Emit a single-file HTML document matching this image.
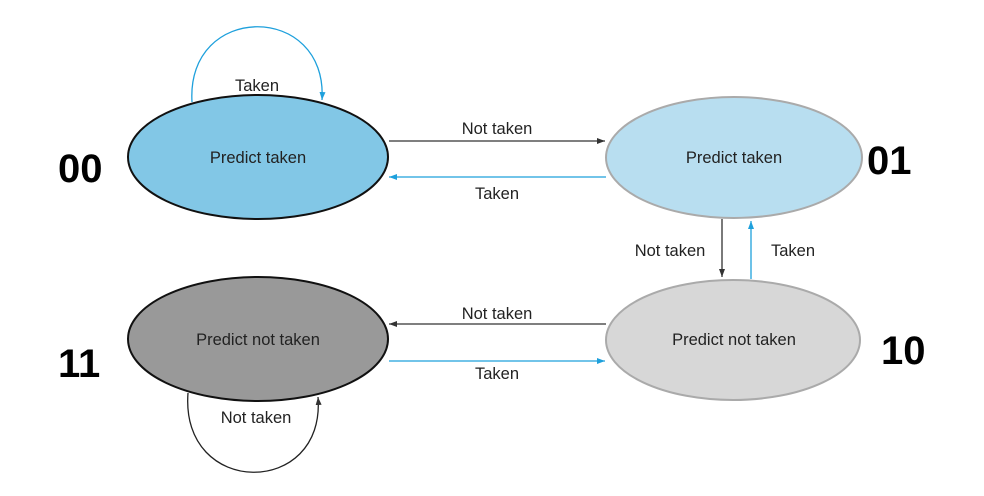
<!DOCTYPE html>
<html><head><meta charset="utf-8"><style>body{margin:0;background:#fff}</style></head><body>
<svg width="984" height="491" xmlns="http://www.w3.org/2000/svg" font-family="Liberation Sans, sans-serif">
<defs>
<marker id="ak" markerWidth="8" markerHeight="6" refX="8" refY="3" orient="auto" markerUnits="userSpaceOnUse"><path d="M0,0 L8,3 L0,6 z" fill="#333"/></marker>
<marker id="ab" markerWidth="8" markerHeight="6" refX="8" refY="3" orient="auto" markerUnits="userSpaceOnUse"><path d="M0,0 L8,3 L0,6 z" fill="#1ea0dc"/></marker>
</defs>
<path d="M192,102 C186,2 328,2 322,100" fill="none" stroke="#1ea0dc" stroke-width="1.3" marker-end="url(#ab)"/>
<path d="M188,393 C180,498 326,498 318,397" fill="none" stroke="#222" stroke-width="1.3" marker-end="url(#ak)"/>
<ellipse cx="258" cy="157" rx="130" ry="62" fill="#82c7e6" stroke="#111" stroke-width="2"/>
<ellipse cx="734" cy="157.5" rx="128" ry="60.5" fill="#b8def0" stroke="#aaa" stroke-width="2"/>
<ellipse cx="258" cy="339" rx="130" ry="62" fill="#999" stroke="#111" stroke-width="2"/>
<ellipse cx="733" cy="340" rx="127" ry="60" fill="#d7d7d7" stroke="#aaa" stroke-width="2"/>
<line x1="389" y1="141" x2="605" y2="141" stroke="#333" stroke-width="1.3" marker-end="url(#ak)"/>
<line x1="606" y1="177" x2="389" y2="177" stroke="#1ea0dc" stroke-width="1.3" marker-end="url(#ab)"/>
<line x1="606" y1="324" x2="389" y2="324" stroke="#333" stroke-width="1.3" marker-end="url(#ak)"/>
<line x1="389" y1="361" x2="605" y2="361" stroke="#1ea0dc" stroke-width="1.3" marker-end="url(#ab)"/>
<line x1="722" y1="219" x2="722" y2="277" stroke="#333" stroke-width="1.3" marker-end="url(#ak)"/>
<line x1="751" y1="279" x2="751" y2="221" stroke="#1ea0dc" stroke-width="1.3" marker-end="url(#ab)"/>
<g fill="#222" font-size="16.5" text-anchor="middle">
<text x="257" y="91">Taken</text>
<text x="258" y="163">Predict taken</text>
<text x="734" y="163">Predict taken</text>
<text x="258" y="345">Predict not taken</text>
<text x="734" y="345">Predict not taken</text>
<text x="497" y="134">Not taken</text>
<text x="497" y="199">Taken</text>
<text x="497" y="319">Not taken</text>
<text x="497" y="379">Taken</text>
<text x="670" y="256">Not taken</text>
<text x="793" y="256">Taken</text>
<text x="256" y="423">Not taken</text>
</g>
<g fill="#000" font-size="40" font-weight="bold">
<text x="58" y="182">00</text>
<text x="867" y="174">01</text>
<text x="58" y="377">11</text>
<text x="881" y="364">10</text>
</g>
</svg>
</body></html>
